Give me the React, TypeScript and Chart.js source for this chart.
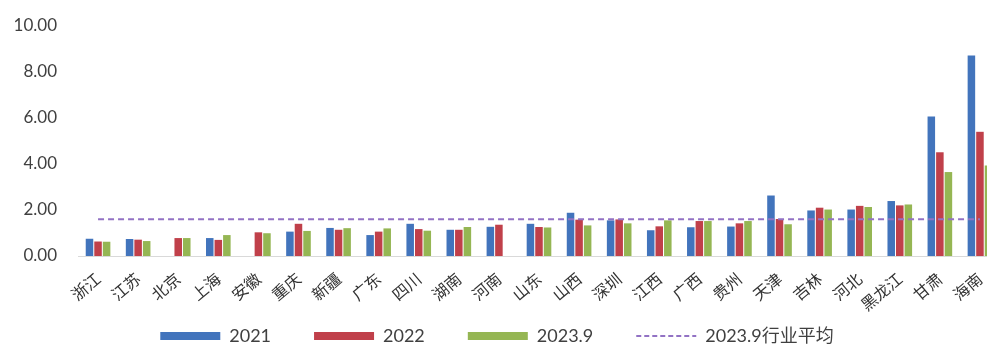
import React, { useEffect, useRef } from "react";
import { Chart, registerables } from "chart.js";

Chart.register(...registerables);

const regions = [
  "浙江", "江苏", "北京", "上海", "安徽", "重庆", "新疆", "广东", "四川", "湖南", "河南", "山东",
  "山西", "深圳", "江西", "广西", "贵州", "天津", "吉林", "河北", "黑龙江", "甘肃", "海南",
];

const values2021 = [
  0.75, 0.74, null, 0.78, null, 1.06, 1.22, 0.91, 1.4, 1.14, 1.27, 1.4,
  1.88, 1.55, 1.12, 1.25, 1.28, 2.63, 1.98, 2.02, 2.39, 6.06, 8.72,
];
const values2022 = [
  0.63, 0.71, 0.78, 0.7, 1.03, 1.4, 1.14, 1.06, 1.17, 1.14, 1.36, 1.26,
  1.58, 1.59, 1.29, 1.52, 1.42, 1.61, 2.1, 2.18, 2.2, 4.51, 5.4,
];
const values2023Sep = [
  0.62, 0.65, 0.78, 0.91, 0.99, 1.09, 1.21, 1.2, 1.1, 1.26, null, 1.24,
  1.33, 1.42, 1.55, 1.52, 1.52, 1.38, 2.02, 2.13, 2.24, 3.65, 3.94,
];
const industryAverage2023Sep = 1.6;

const seriesNames = ["2021", "2022", "2023.9", "2023.9行业平均"];
const seriesColors = ["#4274BC", "#C0404A", "#95B653", "#9272C4"];

const LATIN = "Lato, 'Noto Sans CJK SC', sans-serif";
const CJK = "'Noto Sans CJK SC', sans-serif";

// Legend row drawn under the axis labels: a 60px swatch (solid bar or dashed
// line) followed by the series name, all items centred as one row.
const bottomLegend = {
  id: "bottomLegend",
  afterDraw(chart: any) {
    const ctx: CanvasRenderingContext2D = chart.ctx;
    const swatch = 60;
    const gap = 9;
    const spacing = 43;
    const centerX = 497;
    const y = 336;
    ctx.save();
    ctx.font = `18px ${LATIN}`;
    const widths = seriesNames.map((n) => ctx.measureText(n).width);
    const total =
      widths.reduce((s, w) => s + swatch + gap + w, 0) + spacing * (seriesNames.length - 1);
    let x = centerX - total / 2;
    seriesNames.forEach((name, i) => {
      ctx.beginPath();
      ctx.strokeStyle = seriesColors[i];
      ctx.lineCap = "butt";
      if (i === 3) {
        ctx.lineWidth = 2;
        ctx.setLineDash([5, 3]);
      } else {
        ctx.lineWidth = 8;
        ctx.setLineDash([]);
      }
      ctx.moveTo(x, y);
      ctx.lineTo(x + swatch, y);
      ctx.stroke();
      ctx.setLineDash([]);
      ctx.fillStyle = "#404040";
      ctx.textAlign = "left";
      ctx.textBaseline = "middle";
      ctx.fillText(name, x + swatch + gap, y);
      x += swatch + gap + widths[i] + spacing;
    });
    ctx.restore();
  },
};

export default function App() {
  const canvasRef = useRef<HTMLCanvasElement | null>(null);

  useEffect(() => {
    const canvas = canvasRef.current;
    if (!canvas) return;

    const avgLine = regions.map(() => industryAverage2023Sep);

    const chart = new Chart(canvas, {
      type: "bar",
      data: {
        labels: regions,
        datasets: [
          { label: seriesNames[0], data: values2021, backgroundColor: seriesColors[0], order: 1 },
          { label: seriesNames[1], data: values2022, backgroundColor: seriesColors[1], order: 1 },
          { label: seriesNames[2], data: values2023Sep, backgroundColor: seriesColors[2], order: 1 },
          {
            type: "line",
            label: seriesNames[3],
            data: avgLine,
            borderColor: seriesColors[3],
            backgroundColor: seriesColors[3],
            borderWidth: 2,
            borderDash: [6, 4],
            pointRadius: 0,
            fill: false,
            order: 0,
          } as any,
        ],
      },
      options: {
        responsive: false,
        animation: false,
        devicePixelRatio: 1,
        datasets: {
          bar: { categoryPercentage: 0.64, barPercentage: 0.88 },
        },
        layout: { padding: { top: 26, left: 0, right: 0, bottom: 16 } },
        plugins: {
          tooltip: { enabled: false },
          legend: { display: false },
        },
        scales: {
          x: {
            grid: { display: false, drawTicks: false },
            border: { display: true, color: "#d9d9d9", width: 1 },
            ticks: {
              minRotation: 40,
              maxRotation: 40,
              autoSkip: false,
              padding: 13,
              color: "#333333",
              font: { family: CJK, size: 16 },
            },
            afterFit: (scale: any) => {
              scale.height = 72;
              scale.paddingLeft = 0;
              scale.paddingRight = 0;
            },
          },
          y: {
            min: 0,
            max: 10,
            grid: { display: false, drawTicks: false },
            border: { display: false },
            ticks: {
              stepSize: 2,
              padding: 21,
              color: "#404040",
              font: { family: LATIN, size: 17 },
              callback: (v: any) => Number(v).toFixed(2),
            },
            afterFit: (scale: any) => {
              scale.width = 78;
              scale.paddingTop = 0;
              scale.paddingBottom = 0;
            },
          },
        },
      },
      plugins: [bottomLegend],
    });

    return () => chart.destroy();
  }, []);

  return (
    <div
      style={{
        position: "absolute",
        left: 0,
        top: 0,
        width: 987,
        height: 344,
        overflow: "hidden",
        background: "#ffffff",
      }}
    >
      <canvas
        ref={canvasRef}
        width={1000}
        height={344}
        style={{ display: "block", width: 1000, height: 344 }}
      />
    </div>
  );
}
